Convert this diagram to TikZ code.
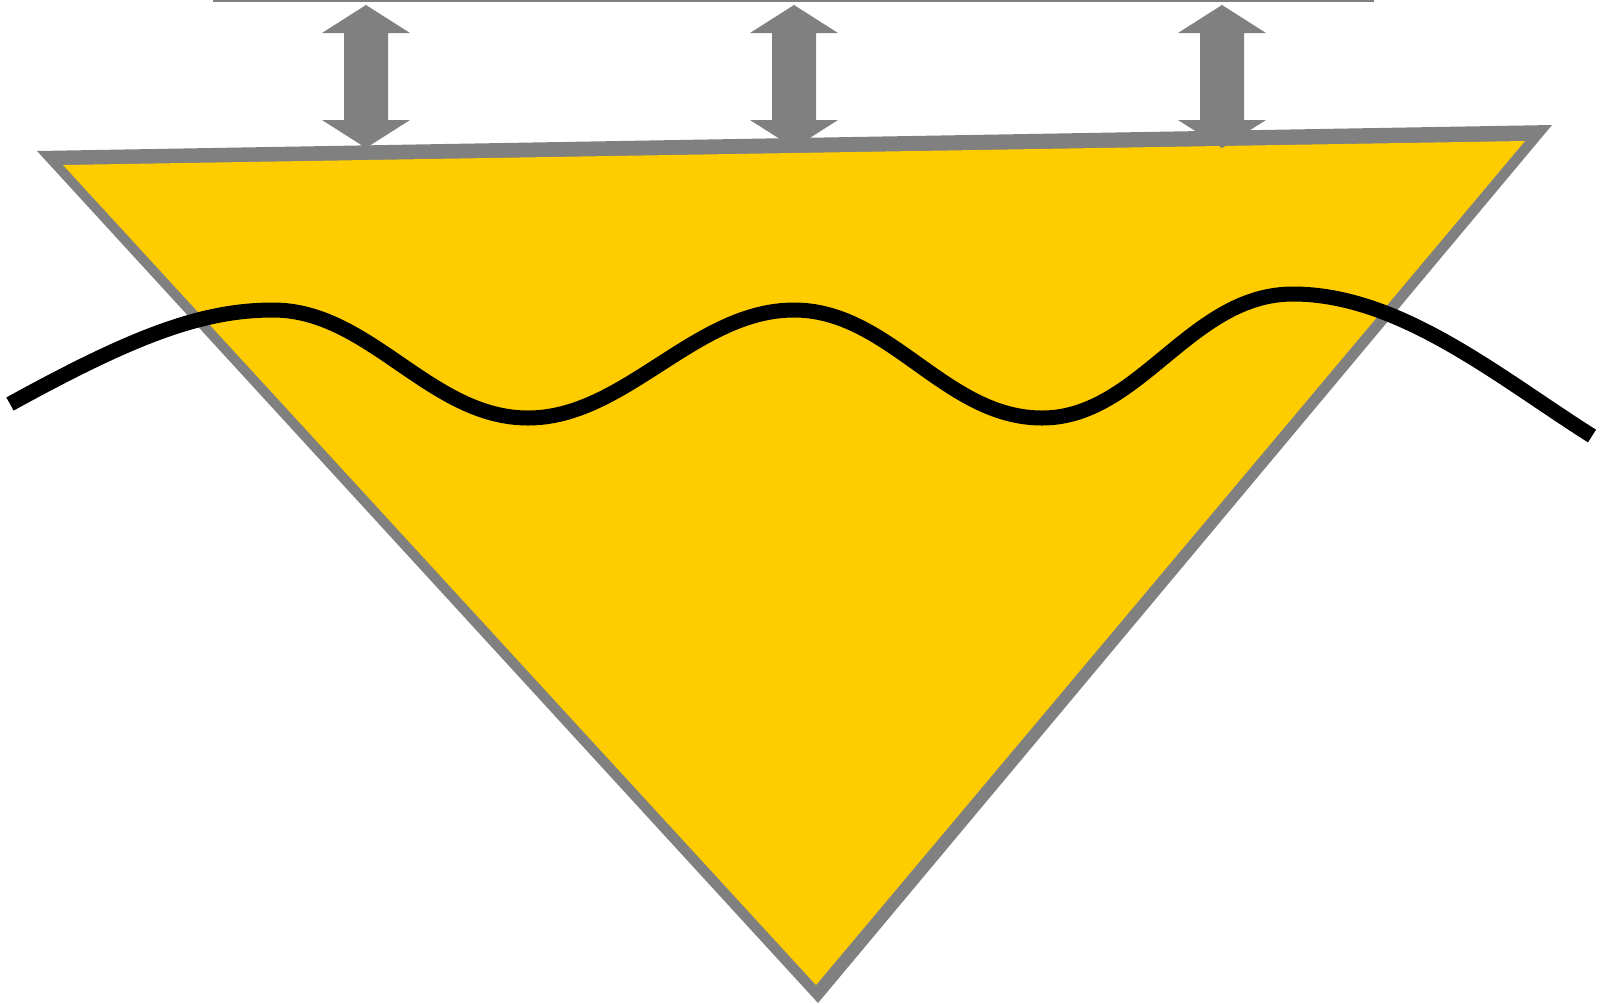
\documentclass[tikz,border=0pt]{standalone}
\definecolor{wedgeyellow}{RGB}{255,204,0}
\definecolor{edgegray}{RGB}{128,128,128}
\tikzset{
  arrowshape/.style={fill=edgegray, draw=none},
  wave/.style={draw=black, line width=7.5pt, line cap=butt},
  topline/.style={draw=edgegray, line width=0.8pt}
}
\newcommand{\dblarrow}[1]{%
  \fill[arrowshape] (#1,5) -- (#1+44,33) -- (#1+22,33) -- (#1+22,120) -- (#1+44,120)
    -- (#1,148) -- (#1-44,120) -- (#1-22,120) -- (#1-22,33) -- (#1-44,33) -- cycle;}
\begin{document}
\begin{tikzpicture}[x=0.5pt,y=-0.5pt]
  \useasboundingbox (0,0) rectangle (1600,1003);
  % top reference line
  \draw[topline] (213,1) -- (1374,1);
  % wedge: gray outline (outer) then yellow (inner)
  \fill[edgegray] (37,151) -- (1552,125) -- (818,1003) -- cycle;
  \fill[wedgeyellow] (63,165) -- (1525,141) -- (816,985) -- cycle;
  % double arrows
  \dblarrow{366}
  \dblarrow{794}
  \dblarrow{1222}
  % wave
  \draw[wave] (10,404) .. controls (130,338) and (200,310) .. (273,310)
    .. controls (370,310) and (430,418) .. (528,418)
    .. controls (625,418) and (695,310) .. (794,310)
    .. controls (890,310) and (945,418) .. (1042,418)
    .. controls (1140,418) and (1190,294) .. (1293,294)
    .. controls (1400,294) and (1500,378) .. (1592,436);
\end{tikzpicture}
\end{document}
